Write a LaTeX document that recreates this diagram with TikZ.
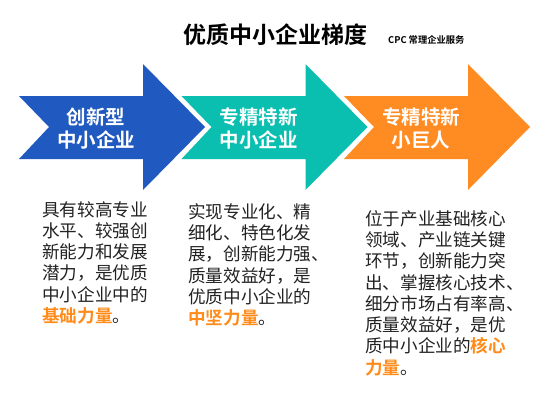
\documentclass[tikz,border=0pt]{standalone}
\usepackage{fontspec}
\newfontfamily\cjk{Noto Sans CJK SC}[BoldFont={Noto Sans CJK SC Bold}]
\definecolor{ablue}{HTML}{205AC0}
\definecolor{ateal}{HTML}{0ABFAF}
\definecolor{aorange}{HTML}{FF8C22}
\definecolor{hl}{HTML}{FF8C1A}
\definecolor{bodytxt}{HTML}{222222}
\newcommand{\hlt}[1]{{\bfseries\color{hl}#1}}
\begin{document}
\begin{tikzpicture}[x=1pt,y=-1pt,
  arrowlabel/.style={text=white,font=\cjk\bfseries\fontsize{19.5}{23.5}\selectfont,align=center,inner sep=0pt},
  bodytext/.style={text=bodytxt,font=\cjk\fontsize{17.6}{21.3}\selectfont,align=left,inner sep=0pt,anchor=north west}]
\useasboundingbox (0,0) rectangle (555,400);
\fill[white] (0,0) rectangle (555,400);
% arrows
\foreach \dx/\col in {0/ablue,162.5/ateal,325/aorange}{
  \fill[\col] (19+\dx,96) -- (143+\dx,96) -- (143+\dx,64) -- (205+\dx,127)
     -- (143+\dx,190) -- (143+\dx,159) -- (19+\dx,159) -- (49+\dx,127) -- cycle;
}
% title
\node[font=\cjk\bfseries\fontsize{23}{27}\selectfont,inner sep=0pt] (title) at (275,35) {优质中小企业梯度};
\node[font=\cjk\bfseries\fontsize{9.3}{11}\selectfont,inner sep=0pt,anchor=west] (brand) at (388,40) {CPC 常理企业服务};
% arrow labels
\node[arrowlabel] (l1) at (96,128.5) {创新型\\中小企业};
\node[arrowlabel] (l2) at (258.5,128.5) {专精特新\\中小企业};
\node[arrowlabel] (l3) at (421,128.5) {专精特新\\小巨人};
% body texts
\node[bodytext] (t1) at (42,201) {具有较高专业\\水平、较强创\\新能力和发展\\潜力，是优质\\中小企业中的\\\hlt{基础力量}。};
\node[bodytext] (t2) at (188,203) {实现专业化、精\\细化、特色化发\\展，创新能力强、\\质量效益好，是\\优质中小企业的\\\hlt{中坚力量}。};
\node[bodytext] (t3) at (365,210) {位于产业基础核心\\领域、产业链关键\\环节，创新能力突\\出、掌握核心技术、\\细分市场占有率高、\\质量效益好，是优\\质中小企业的\hlt{核心}\\\hlt{力量}。};
\end{tikzpicture}
\end{document}
